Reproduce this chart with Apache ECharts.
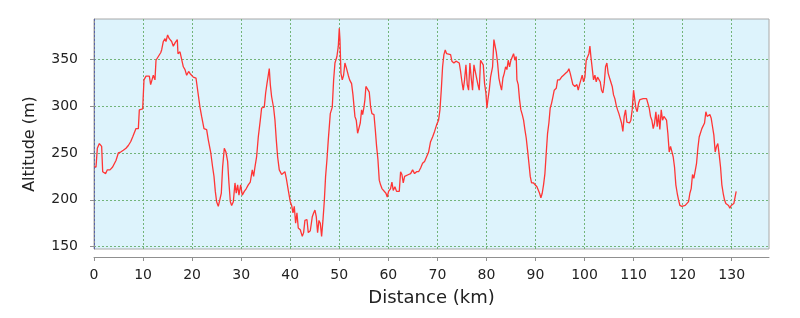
<!DOCTYPE html>
<html>
<head>
<meta charset="utf-8">
<script src="https://cdn.jsdelivr.net/npm/echarts@6/dist/echarts.min.js"></script>
<style>
html,body{margin:0;padding:0;background:#fff;}
#chart{width:800px;height:318px;}
</style>
</head>
<body>
<div id="chart"></div>
<script>
// Elevation profile: [distance km, altitude m]
const profileLeg1 = [[0,235],[0.41,235],[0.68,255],[1.09,260],[1.43,258],[1.56,257],[1.77,230],[2.04,228],[2.38,228],[2.72,232],[3.26,232],[3.6,231],[3.8,235],[4.08,236],[4.48,242],[4.96,250],[5.43,251],[5.98,253],[6.52,255],[7.0,258],[7.47,262],[7.88,267],[8.22,269],[8.56,276],[9.04,276],[9.24,296],[9.92,297],[10.19,328],[10.6,332],[11.28,332],[11.55,323],[11.82,323],[12.09,333],[12.43,328],[12.64,349],[13.11,353],[13.59,357],[13.79,360],[14.13,369],[14.47,372],[14.67,369],[15.01,376],[15.35,372],[15.83,369],[16.17,364],[16.58,368],[16.98,371],[17.12,356],[17.53,358],[17.93,356],[18.21,342],[18.55,339],[18.89,333],[19.29,337],[19.7,334],[20.24,331],[20.79,330],[21.06,330],[21.6,299],[21.94,289],[22.42,276],[22.96,275],[23.3,264],[23.78,251],[24.18,235],[24.46,225],[24.73,209],[25.0,198],[25.34,193],[25.68,195],[25.95,207],[26.22,235],[26.56,255],[26.9,251]];
const profileLeg2 = [[27.04,251],[27.24,241],[27.51,218],[27.79,198],[28.06,194],[28.4,198],[28.74,218],[29.0,207],[29.28,216],[29.55,205],[29.89,216],[30.23,205],[30.64,209],[31.05,212],[31.45,216],[31.86,219],[32.27,232],[32.54,225],[32.81,235],[33.15,246],[33.49,267],[33.9,285],[34.17,298],[34.71,299],[34.99,314],[35.26,324],[35.53,333],[35.73,340],[35.94,323],[36.21,310],[36.62,298],[36.89,285],[37.16,264],[37.43,246],[37.77,232],[38.25,227],[38.65,228],[38.92,230],[39.2,223],[39.61,210],[40.01,198],[40.29,194],[40.56,186],[40.83,193],[41.1,175],[41.37,186],[41.64,170],[42.05,168],[42.46,161],[42.73,165],[43.0,178],[43.41,179],[43.68,165],[44.09,167],[44.5,182],[44.77,186],[45.04,189],[45.31,182],[45.58,165],[45.86,178],[46.13,175],[46.4,161],[46.67,178],[46.94,198],[47.21,225],[47.49,243],[47.76,264],[48.17,292],[48.57,299],[48.85,328],[49.12,346],[49.52,353],[49.8,364],[50.0,383],[50.14,371],[50.34,335],[50.61,328],[50.88,333],[51.15,346],[51.49,340],[51.83,333],[52.11,328],[52.51,324],[52.79,312],[53.19,289],[53.46,285],[53.74,271],[54.0,271],[54.28,282]];
const profileLeg3 = [[54.55,296],[54.76,291],[55.03,299],[55.23,307],[55.43,321],[55.71,319],[56.11,315],[56.39,299],[56.66,292],[57.07,291],[57.34,275],[57.61,257],[57.88,243],[58.15,221],[58.42,216],[58.7,212],[59.1,210],[59.51,207],[59.78,203],[60.05,209],[60.46,212],[60.73,219],[61.0,210],[61.34,214],[61.68,209],[62.23,209],[62.5,230],[62.77,227],[63.04,218],[63.32,225],[63.72,223],[64.13,227],[64.54,228],[64.95,232],[65.35,228],[65.76,230],[66.17,230],[66.58,234],[66.98,239],[67.39,241],[67.8,246],[68.21,251],[68.61,262],[69.02,267],[69.43,273],[69.84,280],[70.24,285],[70.52,296],[70.79,317],[71.06,342],[71.33,355],[71.6,360],[71.88,356],[72.28,358],[72.69,355],[72.96,348],[73.37,346],[73.78,348],[74.18,346],[74.46,346],[74.73,337],[75.0,326],[75.27,317],[75.54,328],[75.82,344],[76.09,323],[76.36,317],[76.63,346],[76.9,330],[77.17,317],[77.45,344],[77.72,337],[77.99,339],[78.26,323],[78.53,317],[78.8,349],[79.08,348],[79.35,344],[79.62,324],[79.89,314],[80.1,298],[80.3,307],[80.57,317],[80.84,331],[81.25,342],[81.52,371]];
const profileLeg4 = [[81.73,371],[82.0,358],[82.27,346],[82.54,330],[82.81,323],[83.08,317],[83.36,330],[83.63,335],[83.9,342],[84.17,339],[84.44,349],[84.71,342],[84.99,349],[85.26,348],[85.53,356],[85.8,349],[86.07,353],[86.21,328],[86.48,323],[86.75,307],[87.02,296],[87.3,291],[87.57,285],[87.84,275],[88.11,266],[88.38,253],[88.66,239],[88.93,225],[89.2,218],[89.61,218],[90.01,218],[90.29,214],[90.56,212],[90.83,207],[91.1,202],[91.37,207],[91.64,216],[91.92,228],[92.19,250],[92.46,271],[92.73,282],[93.0,298],[93.27,303],[93.55,310],[93.82,317],[94.23,319],[94.5,328],[94.91,328],[95.31,331],[95.72,333],[96.13,335],[96.54,337],[96.81,340],[97.08,335],[97.35,335],[97.62,323],[98.03,321],[98.44,323],[98.71,317],[98.98,323],[99.25,328],[99.52,333],[99.8,326],[100.07,331],[100.34,349],[100.61,351],[100.88,356],[101.09,364],[101.29,353],[101.56,353],[101.83,328],[102.11,333],[102.38,326],[102.65,331],[102.92,333],[103.19,326],[103.46,317],[103.74,314],[104.01,324],[104.28,342],[104.55,346],[104.82,335],[105.1,330],[105.37,328],[105.64,321],[105.91,312],[106.18,308],[106.45,301],[106.73,296],[107.0,292],[107.27,287],[107.54,282],[107.81,273],[108.08,289],[108.36,296],[108.63,283],[108.9,282],[109.17,282],[109.44,285],[109.71,296],[109.99,317]];
const profileLeg5 = [[110.26,317],[110.46,298],[110.73,294],[111.01,303],[111.28,307],[111.55,309],[111.96,308],[112.36,310],[112.64,308],[112.91,307],[113.18,298],[113.45,289],[113.72,285],[114.0,276],[114.27,282],[114.54,294],[114.81,278],[115.08,291],[115.35,275],[115.63,296],[115.9,285],[116.17,289],[116.44,291],[116.71,285],[116.98,271],[117.26,251],[117.53,257],[117.8,255],[118.07,246],[118.34,235],[118.61,216],[118.89,207],[119.16,200],[119.43,194],[119.84,193],[120.24,193],[120.52,194],[120.79,196],[121.2,198],[121.47,207],[121.74,212],[122.01,227],[122.28,223],[122.55,225],[122.83,239],[123.1,255],[123.37,267],[123.64,269],[123.91,276],[124.18,278],[124.46,282],[124.73,294],[125.0,289],[125.27,287],[125.54,291],[125.82,287],[126.09,278],[126.36,269],[126.63,251],[126.9,257],[127.17,260],[127.45,248],[127.72,235],[127.99,216],[128.26,207],[128.53,200],[128.8,196],[129.08,198],[129.35,194],[129.62,191],[129.89,194],[130.16,196],[130.43,196],[130.71,198],[130.91,209]];

const xTicks = [0,10,20,30,40,50,60,70,80,90,100,110,120,130];
const yTicks = [150,200,250,300,350];
const xName = 'Distance (km)';
const yName = 'Altitude (m)';

const profile = [].concat(profileLeg1, profileLeg2, profileLeg3, profileLeg4, profileLeg5);

const FONT = 'DejaVu Sans';
const gridLine = { show: true, lineStyle: { color: '#72b47a', width: 1, type: [2, 2] } };

const chart = echarts.init(document.getElementById('chart'), null, { renderer: 'canvas' });
chart.setOption({
  animation: false,
  backgroundColor: '#ffffff',
  grid: {
    left: 94, right: 31, top: 19, bottom: 69,
    show: true, backgroundColor: '#ddf3fc', borderColor: '#a8a8a8', borderWidth: 1
  },
  xAxis: {
    type: 'value', min: 0, max: 137.6, interval: 10, offset: 8,
    name: xName, nameLocation: 'middle', nameGap: 32,
    nameTextStyle: { fontFamily: FONT, fontSize: 18, color: '#222' },
    axisLine: { show: true, lineStyle: { color: '#909090', width: 1 } },
    axisTick: { show: true, length: 4, customValues: xTicks, lineStyle: { color: '#909090' } },
    axisLabel: { customValues: xTicks, fontFamily: FONT, fontSize: 14, color: '#222', margin: 11 },
    splitLine: gridLine
  },
  yAxis: {
    type: 'value', min: 147.5, max: 393, offset: 8,
    name: yName, nameLocation: 'middle', nameGap: 48,
    nameTextStyle: { fontFamily: FONT, fontSize: 16, color: '#222', padding: [0, 20, 0, 0] },
    axisLine: { show: true, lineStyle: { color: '#909090', width: 1 } },
    axisTick: { show: true, length: 4, customValues: yTicks, lineStyle: { color: '#909090' } },
    axisLabel: { customValues: yTicks, fontFamily: FONT, fontSize: 14, color: '#222', margin: 8 },
    splitLine: gridLine
  },
  series: [{
    type: 'line',
    data: profile,
    showSymbol: false,
    symbol: 'none',
    lineStyle: { color: '#ff3535', width: 1.3 },
    markLine: {
      silent: true, symbol: 'none', label: { show: false },
      lineStyle: { color: '#5a64a8', type: [2, 2], width: 1 },
      data: [{ xAxis: 0 }]
    }
  }]
});
</script>
</body>
</html>
